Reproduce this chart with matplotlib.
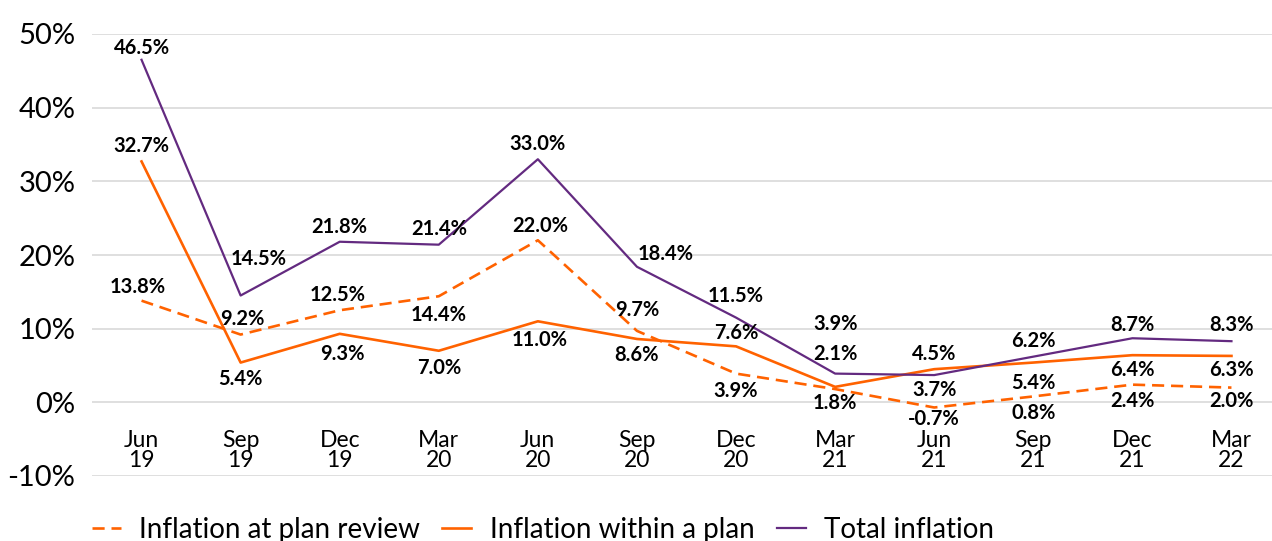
import matplotlib.pyplot as plt

plt.rcParams['font.family'] = ['Lato', 'DejaVu Sans']

quarters = ['Jun\n19', 'Sep\n19', 'Dec\n19', 'Mar\n20', 'Jun\n20', 'Sep\n20',
            'Dec\n20', 'Mar\n21', 'Jun\n21', 'Sep\n21', 'Dec\n21', 'Mar\n22']
plan_review = [13.8, 9.2, 12.5, 14.4, 22.0, 9.7, 3.9, 1.8, -0.7, 0.8, 2.4, 2.0]
within_plan = [32.7, 5.4, 9.3, 7.0, 11.0, 8.6, 7.6, 2.1, 4.5, 5.4, 6.4, 6.3]
total = [46.5, 14.5, 21.8, 21.4, 33.0, 18.4, 11.5, 3.9, 3.7, 6.2, 8.7, 8.3]

# label offsets in pixels (dx, dy), dy > 0 means above the point
review_off = [(-4, 14), (2, 16), (-2, 15), (0, -19), (2, 14), (0, 21),
              (0, -17), (0, -14), (0, -12), (0, -17), (0, -16), (0, -13)]
within_off = [(0, 15), (0, -16), (3, -20), (0, -17), (2, -19), (0, -16),
              (0, 13), (0, 33), (0, 15), (0, -20), (0, -15), (0, -14)]
total_off = [(0, 12), (18, 37), (0, 15), (0, 16), (0, 15), (29, 13),
             (0, 22), (0, 50), (0, -15), (0, 16), (0, 13), (0, 16)]

orange = '#FF6200'
purple = '#632A80'

fig = plt.figure(figsize=(12.72, 5.41), dpi=100)
ax = fig.add_axes([92 / 1272, 65 / 541, 1189 / 1272, 442 / 541])

x = list(range(len(quarters)))
ax.plot(x, plan_review, color=orange, lw=1.9, linestyle=(0, (4.6, 2.6)),
        label='Inflation at plan review')
ax.plot(x, within_plan, color=orange, lw=1.9, label='Inflation within a plan')
ax.plot(x, total, color=purple, lw=1.6, label='Total inflation')

for series, offs in ((plan_review, review_off), (within_plan, within_off), (total, total_off)):
    for i, (v, (dx, dy)) in enumerate(zip(series, offs)):
        ax.annotate(f'{v:.1f}%', (i, v), xytext=(dx, dy), textcoords='offset pixels',
                    ha='center', va='center', fontsize=14.5, fontweight='bold',
                    color='black')

ax.set_xlim(-0.5, 11.5)
ax.set_ylim(-10, 50)
ax.set_yticks(range(-10, 51, 10))
ax.set_yticklabels([f'{t}%' for t in range(-10, 51, 10)], fontsize=21)
ax.tick_params(axis='y', length=0, pad=12)
ax.set_xticks([])
ax.grid(axis='y', color='#d9d9d9', lw=1.2)
ax.set_axisbelow(True)
for s in ax.spines.values():
    s.set_visible(False)

# category labels sit under the zero line
for i, q in enumerate(quarters):
    ax.annotate(q, (i, 0), xytext=(0, -28), textcoords='offset pixels',
                ha='center', va='top', fontsize=16.5, linespacing=0.95)

fig.legend(loc='center left', bbox_to_anchor=(92 / 1272, 1 - 530 / 541),
           ncol=3, frameon=False, fontsize=20, handlelength=1.05,
           handletextpad=0.65, columnspacing=0.8, borderpad=0, borderaxespad=0)

fig.savefig('out.png', dpi=100)
